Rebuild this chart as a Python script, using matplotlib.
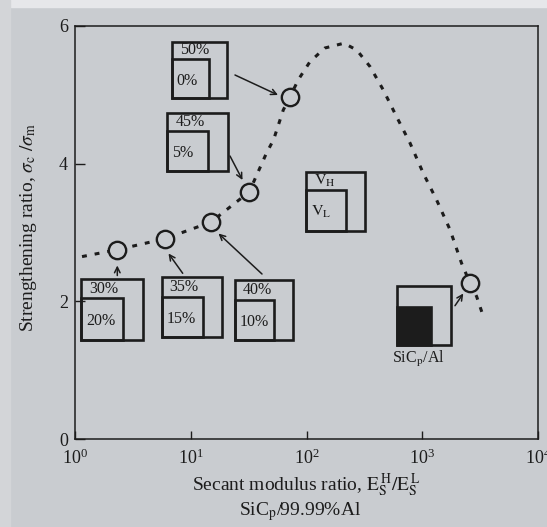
import matplotlib
matplotlib.use("Agg")
import matplotlib.pyplot as plt
from matplotlib.patches import Rectangle

# Data
modulus_ratio = [2.32, 6.0, 14.9, 32, 72, 2580]
strength_ratio = [2.75, 2.91, 3.15, 3.59, 4.97, 2.27]

curve_x = [1.15, 2.32, 6.0, 14.9, 32, 45, 52, 63, 72, 85, 107, 144, 211, 272,
           354, 461, 601, 784, 1021, 1333, 1738, 2190, 2580, 2950, 3370]
curve_y = [2.65, 2.75, 2.91, 3.15, 3.59, 4.15, 4.35, 4.78, 4.97, 5.22, 5.48, 5.68,
           5.75, 5.65, 5.41, 5.07, 4.68, 4.30, 3.86, 3.47, 3.04, 2.55, 2.27, 2.07, 1.78]

v_high = ["50%", "45%", "30%", "35%", "40%", r"$\mathrm{V_H}$"]
v_low = ["0%", "5%", "20%", "15%", "10%", r"$\mathrm{V_L}$"]

x_ticks = [1, 10, 100, 1000, 10000]
y_ticks = [0, 2, 4, 6]

INK = "#1c1c1c"
BG = "#c9ccd0"
W, H = 547, 527
L, R, T, B = 75, 538, 26, 439

plt.rcParams["font.family"] = ["Liberation Serif", "DejaVu Serif"]
plt.rcParams["mathtext.fontset"] = "stix"
plt.rcParams["text.color"] = INK


def frac(px, py):
    # pixel position in the picture -> axes fraction
    return (px - L) / (R - L), (B - py) / (B - T)


fig = plt.figure(figsize=(W / 100, H / 100), dpi=100, facecolor=BG)
# lighter strips at the photo edges
fig.patches.append(Rectangle((0, 1 - 7 / H), 1, 7 / H, transform=fig.transFigure,
                             color="#e6e7ea", zorder=-5))
fig.patches.append(Rectangle((0, 0), 10 / W, 1, transform=fig.transFigure,
                             color="#d3d5d8", zorder=-5))

ax = fig.add_axes([L / W, 1 - B / H, (R - L) / W, (B - T) / H])
ax.set_facecolor(BG)
ax.set_xscale("log")
ax.set_xlim(1, 10000)
ax.set_ylim(0, 6)
ax.set_xticks(x_ticks)
ax.set_yticks(y_ticks)
ax.minorticks_off()
ax.tick_params(axis="x", direction="in", length=6, width=1, pad=7,
               labelsize=13, colors=INK)
ax.tick_params(axis="y", direction="in", length=7, width=1, pad=5,
               labelsize=13, colors=INK)
for s in ax.spines.values():
    s.set_linewidth(1.1)
    s.set_color(INK)

ax.plot(curve_x, curve_y, color=INK, lw=2.2, linestyle=(0, (1.6, 2.6)), zorder=2)
ax.plot(modulus_ratio, strength_ratio, "o", ms=12.5, mfc=BG, mec=INK, mew=1.7,
        zorder=3, clip_on=False)


def draw_box(x0, y0, x1, y1, inner_top, inner_right, top_txt=None, low_txt=None,
             filled=False):
    a0, b0 = frac(x0, y1)
    a1, b1 = frac(x1, y0)
    ax.add_patch(Rectangle((a0, b0), a1 - a0, b1 - b0, transform=ax.transAxes,
                           fill=False, ec=INK, lw=1.9, zorder=4))
    c1, d1 = frac(inner_right, inner_top)
    ax.add_patch(Rectangle((a0, b0), c1 - a0, d1 - b0, transform=ax.transAxes,
                           fill=filled, fc=INK, ec=INK, lw=1.9, zorder=4))
    if top_txt:
        tx, ty = frac(x0 + 8, (y0 + inner_top) / 2)
        ax.text(tx, ty, top_txt, transform=ax.transAxes, fontsize=11.5,
                ha="left", va="center", zorder=5)
    if low_txt:
        tx, ty = frac(x0 + 5, (inner_top + y1) / 2 + 2)
        ax.text(tx, ty, low_txt, transform=ax.transAxes, fontsize=11.5,
                ha="left", va="center", zorder=5)


boxes = [
    (171.7, 41.7, 227.3, 98.3, 59.3, 209.3),
    (167.3, 112.7, 227.7, 170.7, 131.0, 207.7),
    (81.0, 279.0, 143.3, 340.0, 298.3, 122.7),
    (161.7, 276.7, 222.3, 337.3, 296.7, 202.7),
    (235.0, 280.0, 293.3, 340.0, 300.0, 274.0),
    (305.7, 171.7, 365.0, 230.7, 190.0, 346.0),
]
for (x0, y0, x1, y1, it, ir), th, tl in zip(boxes, v_high, v_low):
    draw_box(x0, y0, x1, y1, it, ir, th, tl)

draw_box(396.7, 285.7, 451.0, 345.0, 306.7, 431.0, filled=True)
sx, sy = frac(418, 359)
ax.text(sx, sy, r"SiC$_\mathrm{p}$/Al", transform=ax.transAxes, fontsize=11.5,
        ha="center", va="center")

arrows = [
    ((235, 75), (278, 95)),
    ((230, 156), (242.5, 180)),
    ((262, 274), (218.5, 233.5)),
    ((182.7, 273.3), (168.5, 253.5)),
    ((117.3, 275.5), (117.3, 265.5)),
    ((455, 305.7), (463.3, 293.5)),
]
for tail, tip in arrows:
    ax.annotate("", xy=frac(*tip), xytext=frac(*tail), xycoords="axes fraction",
                textcoords="axes fraction",
                arrowprops=dict(arrowstyle="->", lw=1.1, color=INK,
                                shrinkA=0, shrinkB=0, mutation_scale=10))

fig.text(306 / W, 1 - 485 / H, r"Secant modulus ratio, $\mathrm{E_S^{\,H}/E_S^{\,L}}$",
         ha="center", va="center", fontsize=14)
fig.text(300 / W, 1 - 512 / H, r"SiC$_\mathrm{p}$/99.99%Al",
         ha="center", va="center", fontsize=14)
fig.text(29 / W, 1 - 228 / H, r"Strengthening ratio, $\sigma_\mathrm{c}\ /\sigma_\mathrm{m}$",
         ha="center", va="center", rotation=90, fontsize=14)

fig.savefig("out.png", dpi=100, facecolor=BG)
